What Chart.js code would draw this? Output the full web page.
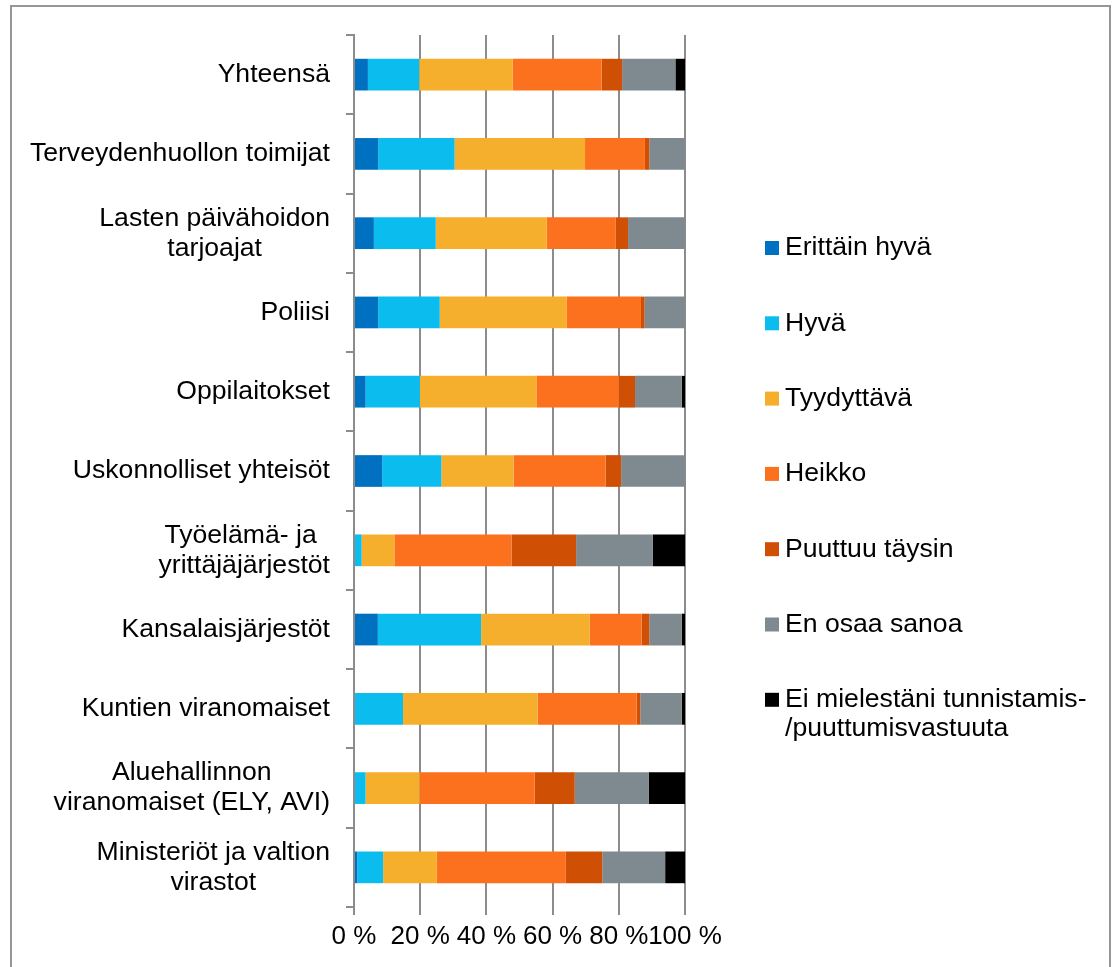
<!DOCTYPE html>
<html>
<head>
<meta charset="utf-8">
<script src="https://cdn.jsdelivr.net/npm/chart.js@4/dist/chart.umd.min.js"></script>
<style>
  body { margin: 0; background: #fff; }
  #wrap { position: relative; width: 1114px; height: 967px; }
  #frame { position: absolute; left: 10px; top: 5px; width: 1101px; height: 975px; border: 2px solid #969696; box-sizing: border-box; }
  canvas { position: absolute; left: 0; top: 0; }
</style>
</head>
<body>
<div id="wrap">
  <div id="frame"></div>
  <canvas id="chart" width="1114" height="967"></canvas>
</div>
<script>
const categories = [
  'Yhteensä',
  'Terveydenhuollon toimijat',
  ['Lasten päivähoidon', 'tarjoajat'],
  'Poliisi',
  'Oppilaitokset',
  'Uskonnolliset yhteisöt',
  ['Työelämä- ja ', 'yrittäjäjärjestöt'],
  'Kansalaisjärjestöt',
  'Kuntien viranomaiset',
  ['Aluehallinnon', 'viranomaiset (ELY, AVI)'],
  ['Ministeriöt ja valtion', 'virastot']
];

const seriesNames = [
  'Erittäin hyvä',
  'Hyvä',
  'Tyydyttävä',
  'Heikko',
  'Puuttuu täysin',
  'En osaa sanoa',
  'Ei mielestäni tunnistamis-\n/puuttumisvastuuta'
];

const seriesColors = ['#0070c0', '#0bbcef', '#f6ae2d', '#fc711e', '#cf4f05', '#7e8a90', '#000000'];

const erittainHyva = [4.2, 7.3, 6.0, 7.3, 3.5, 8.5, 0, 7.2, 0, 0, 1.0];
const hyva = [15.5, 23.1, 18.7, 18.6, 16.4, 17.9, 2.3, 31.2, 14.8, 3.5, 7.8];
const tyydyttava = [28.2, 39.4, 33.5, 38.4, 35.2, 21.8, 9.9, 32.8, 40.7, 16.3, 16.2];
const heikko = [26.9, 18.1, 20.9, 22.4, 24.9, 27.8, 35.4, 15.7, 29.9, 34.8, 39.0];
const puuttuuTaysin = [6.2, 1.3, 3.7, 1.1, 4.9, 4.7, 19.5, 2.3, 1.1, 12.1, 11.0];
const enOsaaSanoa = [16.1, 10.8, 17.2, 12.2, 14.1, 19.3, 23.2, 9.8, 12.5, 22.4, 19.0];
const eiVastuuta = [2.9, 0, 0, 0, 1.0, 0, 9.7, 1.0, 1.0, 10.9, 6.0];

const seriesValues = [erittainHyva, hyva, tyydyttava, heikko, puuttuuTaysin, enOsaaSanoa, eiVastuuta];

const xTicks = [0, 20, 40, 60, 80, 100];

const FONT = '"Liberation Sans", Arial, sans-serif';
const GRID = '#8c8c8c';

// category labels, every line centred like in Excel
const categoryLabels = {
    id: 'categoryLabels',
    afterDraw(chart) {
        const ctx = chart.ctx;
        const scale = chart.scales.y;
        const right = scale.right - 24;
        ctx.save();
        ctx.font = '26.6px ' + FONT;
        ctx.fillStyle = '#000';
        ctx.textAlign = 'center';
        ctx.textBaseline = 'middle';
        categories.forEach((label, i) => {
            const lines = Array.isArray(label) ? label : [label];
            const widest = Math.max(...lines.map((l) => ctx.measureText(l).width));
            const cx = right - widest / 2;
            const cy = scale.getPixelForValue(i);
            lines.forEach((line, j) => {
                ctx.fillText(line, cx, cy + (j - (lines.length - 1) / 2) * 30);
            });
        });
        ctx.restore();
    }
};

// legend on the right, one item per row
const sideLegend = {
    id: 'sideLegend',
    afterDraw(chart) {
        const ctx = chart.ctx;
        const x = chart.chartArea.right + 80;
        ctx.save();
        ctx.font = '26.6px ' + FONT;
        ctx.textAlign = 'left';
        ctx.textBaseline = 'middle';
        chart.data.datasets.forEach((ds, i) => {
            const y = 248 + i * 75.3;
            ctx.fillStyle = ds.backgroundColor;
            ctx.fillRect(x, y - 7, 14, 14);
            ctx.fillStyle = '#000';
            ds.label.split('\n').forEach((line, j) => {
                ctx.fillText(line, x + 20, y + j * 29);
            });
        });
        ctx.restore();
    }
};

new Chart(document.getElementById('chart'), {
    type: 'bar',
    data: {
        labels: categories,
        datasets: seriesNames.map((name, i) => ({
            label: name,
            data: seriesValues[i],
            backgroundColor: seriesColors[i],
            borderWidth: 0,
            barPercentage: 0.4,
            categoryPercentage: 1
        }))
    },
    options: {
        indexAxis: 'y',
        responsive: false,
        animation: false,
        layout: {
            padding: { top: 35, right: 429, bottom: 10, left: 0 }
        },
        plugins: {
            legend: { display: false },
            tooltip: { enabled: false }
        },
        scales: {
            x: {
                stacked: true,
                min: 0,
                max: 100,
                afterFit: (scale) => { scale.height = 50; },
                afterBuildTicks: (scale) => { scale.ticks = xTicks.map((v) => ({ value: v })); },
                grid: {
                    color: GRID,
                    lineWidth: 2,
                    tickLength: 8,
                    drawTicks: true
                },
                border: { display: false },
                ticks: {
                    autoSkip: false,
                    maxRotation: 0,
                    padding: 6,
                    color: '#000',
                    font: { family: FONT, size: 26 },
                    callback: (v) => v + ' %'
                }
            },
            y: {
                stacked: true,
                afterFit: (scale) => { scale.width = 354; },
                grid: {
                    drawOnChartArea: false,
                    color: GRID,
                    lineWidth: 2,
                    tickLength: 8
                },
                border: { display: true, color: GRID, width: 2 },
                ticks: { display: false }
            }
        }
    },
    plugins: [categoryLabels, sideLegend]
});
</script>
</body>
</html>
